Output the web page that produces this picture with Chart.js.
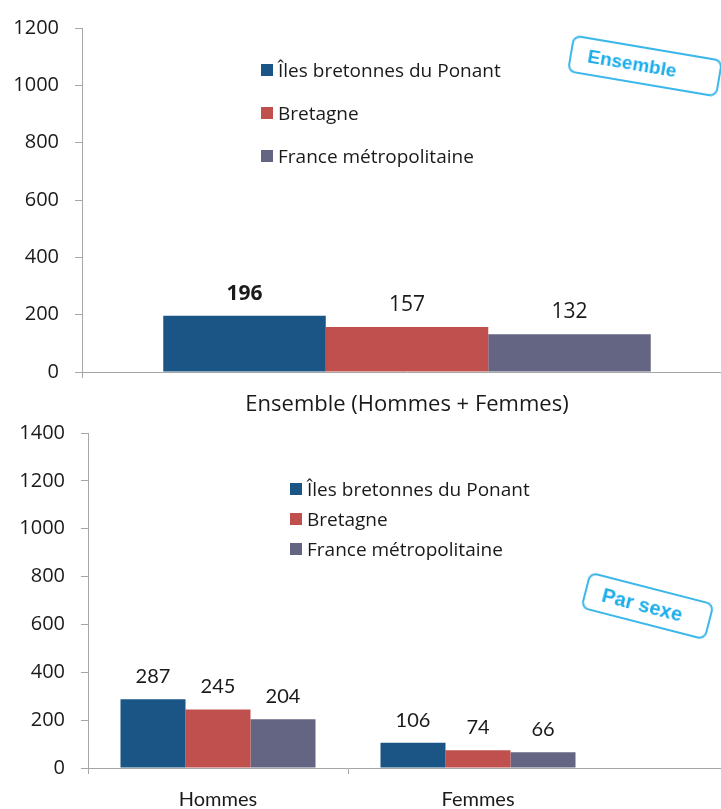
<!DOCTYPE html>
<html lang="fr">
<head>
<meta charset="utf-8">
<title>Îles bretonnes du Ponant – Bretagne – France métropolitaine</title>
<script src="https://cdn.jsdelivr.net/npm/chart.js@4.4.1/dist/chart.umd.min.js"></script>
<style>
  html, body { margin: 0; padding: 0; background: #fff; overflow: hidden; }
  body { width: 721px; height: 809px; position: relative; font-family: "Open Sans", Lato, sans-serif; }
  .panel { position: absolute; left: 0; }
  #topPanel { top: 0; width: 740px; height: 418px; }
  #bottomPanel { top: 405px; width: 721px; height: 404px; }
  .legend { position: absolute; font-size: 19px; color: #1a1a1a; }
  .legend .row { position: absolute; left: 0; white-space: nowrap; display: flex; align-items: center; height: 22px; }
  .legend .sw { width: 12px; height: 12px; margin-right: 5px; flex: none; }
  .badge {
    position: absolute; box-sizing: border-box; border: 2px solid #3bb7ea; border-radius: 8px;
    color: #1badea; background: #fff; font: bold 19px "Liberation Sans", Arial, sans-serif;
    display: flex; align-items: center; padding-left: 16px;
  }
  #badgeTop { left: 569px; top: 47px; width: 152px; height: 38px; transform: rotate(9.6deg); }
  #badgeBottom { left: 583px; top: 587px; width: 129px; height: 38px; transform: rotate(14.4deg); font-size: 20px; }
</style>
</head>
<body>
<div class="panel" id="topPanel"><canvas id="ensembleChart"></canvas></div>
<div class="panel" id="bottomPanel"><canvas id="sexeChart"></canvas></div>
<div class="legend" id="legendTop" style="left:261px; top:59px;"></div>
<div class="legend" id="legendBottom" style="left:290px; top:478px;"></div>
<div class="badge" id="badgeTop">Ensemble</div>
<div class="badge" id="badgeBottom">Par sexe</div>

<script>
// series
const seriesNames = ['Îles bretonnes du Ponant', 'Bretagne', 'France métropolitaine'];
const seriesColors = ['#1a5586', '#c0504d', '#646483'];

// top chart : ensemble
const ensembleCategories = ['Ensemble (Hommes + Femmes)'];
const ensembleIles = [196];
const ensembleBretagne = [157];
const ensembleFrance = [132];
const ensembleMax = 1200;

// bottom chart : par sexe
const sexeCategories = ['Hommes', 'Femmes'];
const sexeIles = [287, 106];
const sexeBretagne = [245, 74];
const sexeFrance = [204, 66];
const sexeMax = 1400;

const tickStep = 200;
const axisColor = '#a6a6a6';
const textColor = '#1a1a1a';

// value labels above each bar
const valueLabels = {
  id: 'valueLabels',
  afterDatasetsDraw(chart, _args, opts) {
    const { ctx } = chart;
    chart.data.datasets.forEach((ds, i) => {
      chart.getDatasetMeta(i).data.forEach((bar, j) => {
        ctx.save();
        ctx.font = `${opts.bold && opts.bold[i] ? 'bold ' : ''}${opts.font}`;
        ctx.fillStyle = textColor;
        ctx.textAlign = 'center';
        ctx.textBaseline = 'alphabetic';
        ctx.fillText(ds.data[j], bar.x, bar.y - 16);
        ctx.restore();
      });
    });
  }
};

// the category axis line runs on to the right edge of the picture
const axisRunOn = {
  id: 'axisRunOn',
  afterDraw(chart) {
    const x = chart.scales.x;
    const y = Math.round(x.top) + 0.5;
    const { ctx } = chart;
    ctx.save();
    ctx.strokeStyle = axisColor;
    ctx.lineWidth = 1;
    ctx.beginPath();
    ctx.moveTo(chart.chartArea.right, y);
    ctx.lineTo(chart.width, y);
    ctx.stroke();
    ctx.restore();
  }
};

function buildDatasets(values) {
  return values.map((data, i) => ({
    label: seriesNames[i],
    data,
    backgroundColor: seriesColors[i],
    borderWidth: 0,
    barPercentage: 1,
    categoryPercentage: 0.75
  }));
}

function makeChart(canvasId, categories, values, yMax, cfg) {
  return new Chart(document.getElementById(canvasId), {
    type: 'bar',
    data: { labels: categories, datasets: buildDatasets(values) },
    options: {
      responsive: true,
      maintainAspectRatio: false,
      animation: false,
      layout: { padding: cfg.padding },
      plugins: {
        legend: { display: false },
        tooltip: { enabled: false },
        valueLabels: { bold: cfg.bold || [], font: cfg.valueFont }
      },
      scales: {
        x: {
          afterFit(scale) { scale.height = cfg.xHeight; },
          grid: {
            offset: true,
            drawOnChartArea: false,
            tickLength: 6,
            // no tick mark after the last category
            color: ctx => ctx.tick ? axisColor : 'transparent'
          },
          border: { color: axisColor, width: 1 },
          ticks: { color: textColor, font: cfg.xFont, padding: 14 }
        },
        y: {
          min: 0,
          max: yMax,
          afterFit(scale) { scale.width = cfg.yWidth; },
          grid: { drawOnChartArea: false, tickLength: 7, color: axisColor },
          border: { color: axisColor, width: 1 },
          ticks: {
            stepSize: tickStep,
            color: textColor,
            font: { family: 'Open Sans', size: 20 },
            padding: 16,
            callback: v => String(v)
          }
        }
      }
    },
    plugins: [valueLabels].concat(cfg.runOn ? [axisRunOn] : [])
  });
}

makeChart('ensembleChart', ensembleCategories,
  [ensembleIles, ensembleBretagne, ensembleFrance], ensembleMax,
  {
    padding: { top: 28, right: 8, left: 0, bottom: 0 }, xHeight: 46, yWidth: 82,
    bold: [true, false, false], valueFont: '21px "Open Sans"',
    xFont: { family: 'Open Sans', size: 22 }
  });

makeChart('sexeChart', sexeCategories,
  [sexeIles, sexeBretagne, sexeFrance], sexeMax,
  {
    padding: { top: 0, right: 113, left: 0, bottom: 0 }, xHeight: 41, yWidth: 88,
    runOn: true, valueFont: '20px Lato',
    xFont: { family: 'Lato', size: 20 }
  });

// legends (HTML, placed inside the plot areas as in the original)
function fillLegend(id, spacing) {
  const box = document.getElementById(id);
  seriesNames.forEach((name, i) => {
    const row = document.createElement('div');
    row.className = 'row';
    row.style.top = (i * spacing) + 'px';
    row.innerHTML = `<span class="sw" style="background:${seriesColors[i]}"></span><span>${name}</span>`;
    box.appendChild(row);
  });
}
fillLegend('legendTop', 43);
fillLegend('legendBottom', 30);
</script>
</body>
</html>
